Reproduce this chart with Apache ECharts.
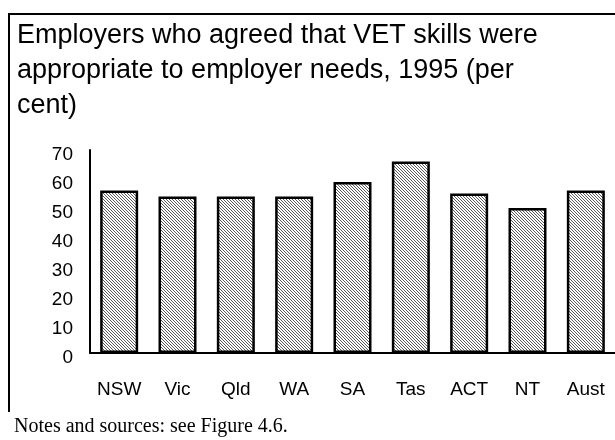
<!DOCTYPE html>
<html>
<head>
<meta charset="utf-8">
<script src="https://cdn.jsdelivr.net/npm/echarts@6/dist/echarts.min.js"></script>
<style>
  html, body { margin: 0; padding: 0; background: #fff; }
  #chart { width: 615px; height: 440px; }
</style>
</head>
<body>
<div id="chart"></div>
<script>
// States and territories, share of employers agreeing (per cent)
const categories = ['NSW', 'Vic', 'Qld', 'WA', 'SA', 'Tas', 'ACT', 'NT', 'Aust'];
const agreedPct = [56, 54, 54, 54, 59, 66, 55, 50, 56];
const yTicks = { min: 0, max: 70, interval: 10 };

const titleText = 'Employers who agreed that VET skills were\nappropriate to employer needs, 1995 (per\ncent)';
const noteText = 'Notes and sources: see Figure 4.6.';

// Fine diagonal hatch used as the bar fill
function makeHatch() {
  const c = document.createElement('canvas');
  c.width = 3; c.height = 3;
  const ctx = c.getContext('2d');
  ctx.fillStyle = '#ffffff';
  ctx.fillRect(0, 0, 3, 3);
  ctx.fillStyle = '#5a5a5a';
  for (let i = 0; i < 3; i++) ctx.fillRect(i, i, 1, 1);
  return c;
}

const chart = echarts.init(document.getElementById('chart'), null, { renderer: 'canvas' });

chart.setOption({
  animation: false,
  backgroundColor: '#ffffff',
  title: {
    text: titleText,
    left: 12,
    top: 13,
    textStyle: {
      fontFamily: 'Liberation Sans, Arial, sans-serif',
      fontSize: 27,
      fontWeight: 'normal',
      color: '#000',
      lineHeight: 35
    }
  },
  graphic: [
    // outer frame: top and left edges
    { type: 'line', shape: { x1: 9, y1: 14, x2: 615, y2: 14 }, style: { stroke: '#000', lineWidth: 2 } },
    { type: 'line', shape: { x1: 9, y1: 13, x2: 9, y2: 412 }, style: { stroke: '#000', lineWidth: 2 } },
    {
      type: 'text', left: 14, top: 417,
      style: { text: noteText, font: '20px "Liberation Serif", "Times New Roman", serif', fill: '#000' }
    }
  ],
  grid: { left: 90, top: 150, width: 528, bottom: 87, containLabel: false },
  xAxis: {
    type: 'category',
    data: categories,
    axisLine: { lineStyle: { color: '#000', width: 2 } },
    axisTick: { show: false },
    axisLabel: {
      color: '#000',
      fontFamily: 'Liberation Sans, Arial, sans-serif',
      fontSize: 19,
      margin: 27
    }
  },
  yAxis: {
    type: 'value',
    min: yTicks.min,
    max: yTicks.max,
    interval: yTicks.interval,
    axisLine: { show: true, lineStyle: { color: '#000', width: 2 } },
    axisTick: { show: false },
    splitLine: { show: false },
    axisLabel: {
      margin: 17,
      formatter: '{v|{value}}',
      rich: {
        v: {
          color: '#000',
          fontFamily: 'Liberation Sans, Arial, sans-serif',
          fontSize: 19,
          padding: [10, 0, 0, 0]
        }
      }
    }
  },
  series: [{
    type: 'bar',
    data: agreedPct,
    barWidth: 38,
    itemStyle: {
      color: { image: makeHatch(), repeat: 'repeat' },
      borderColor: '#000',
      borderWidth: 2.5
    }
  }]
});
</script>
</body>
</html>
